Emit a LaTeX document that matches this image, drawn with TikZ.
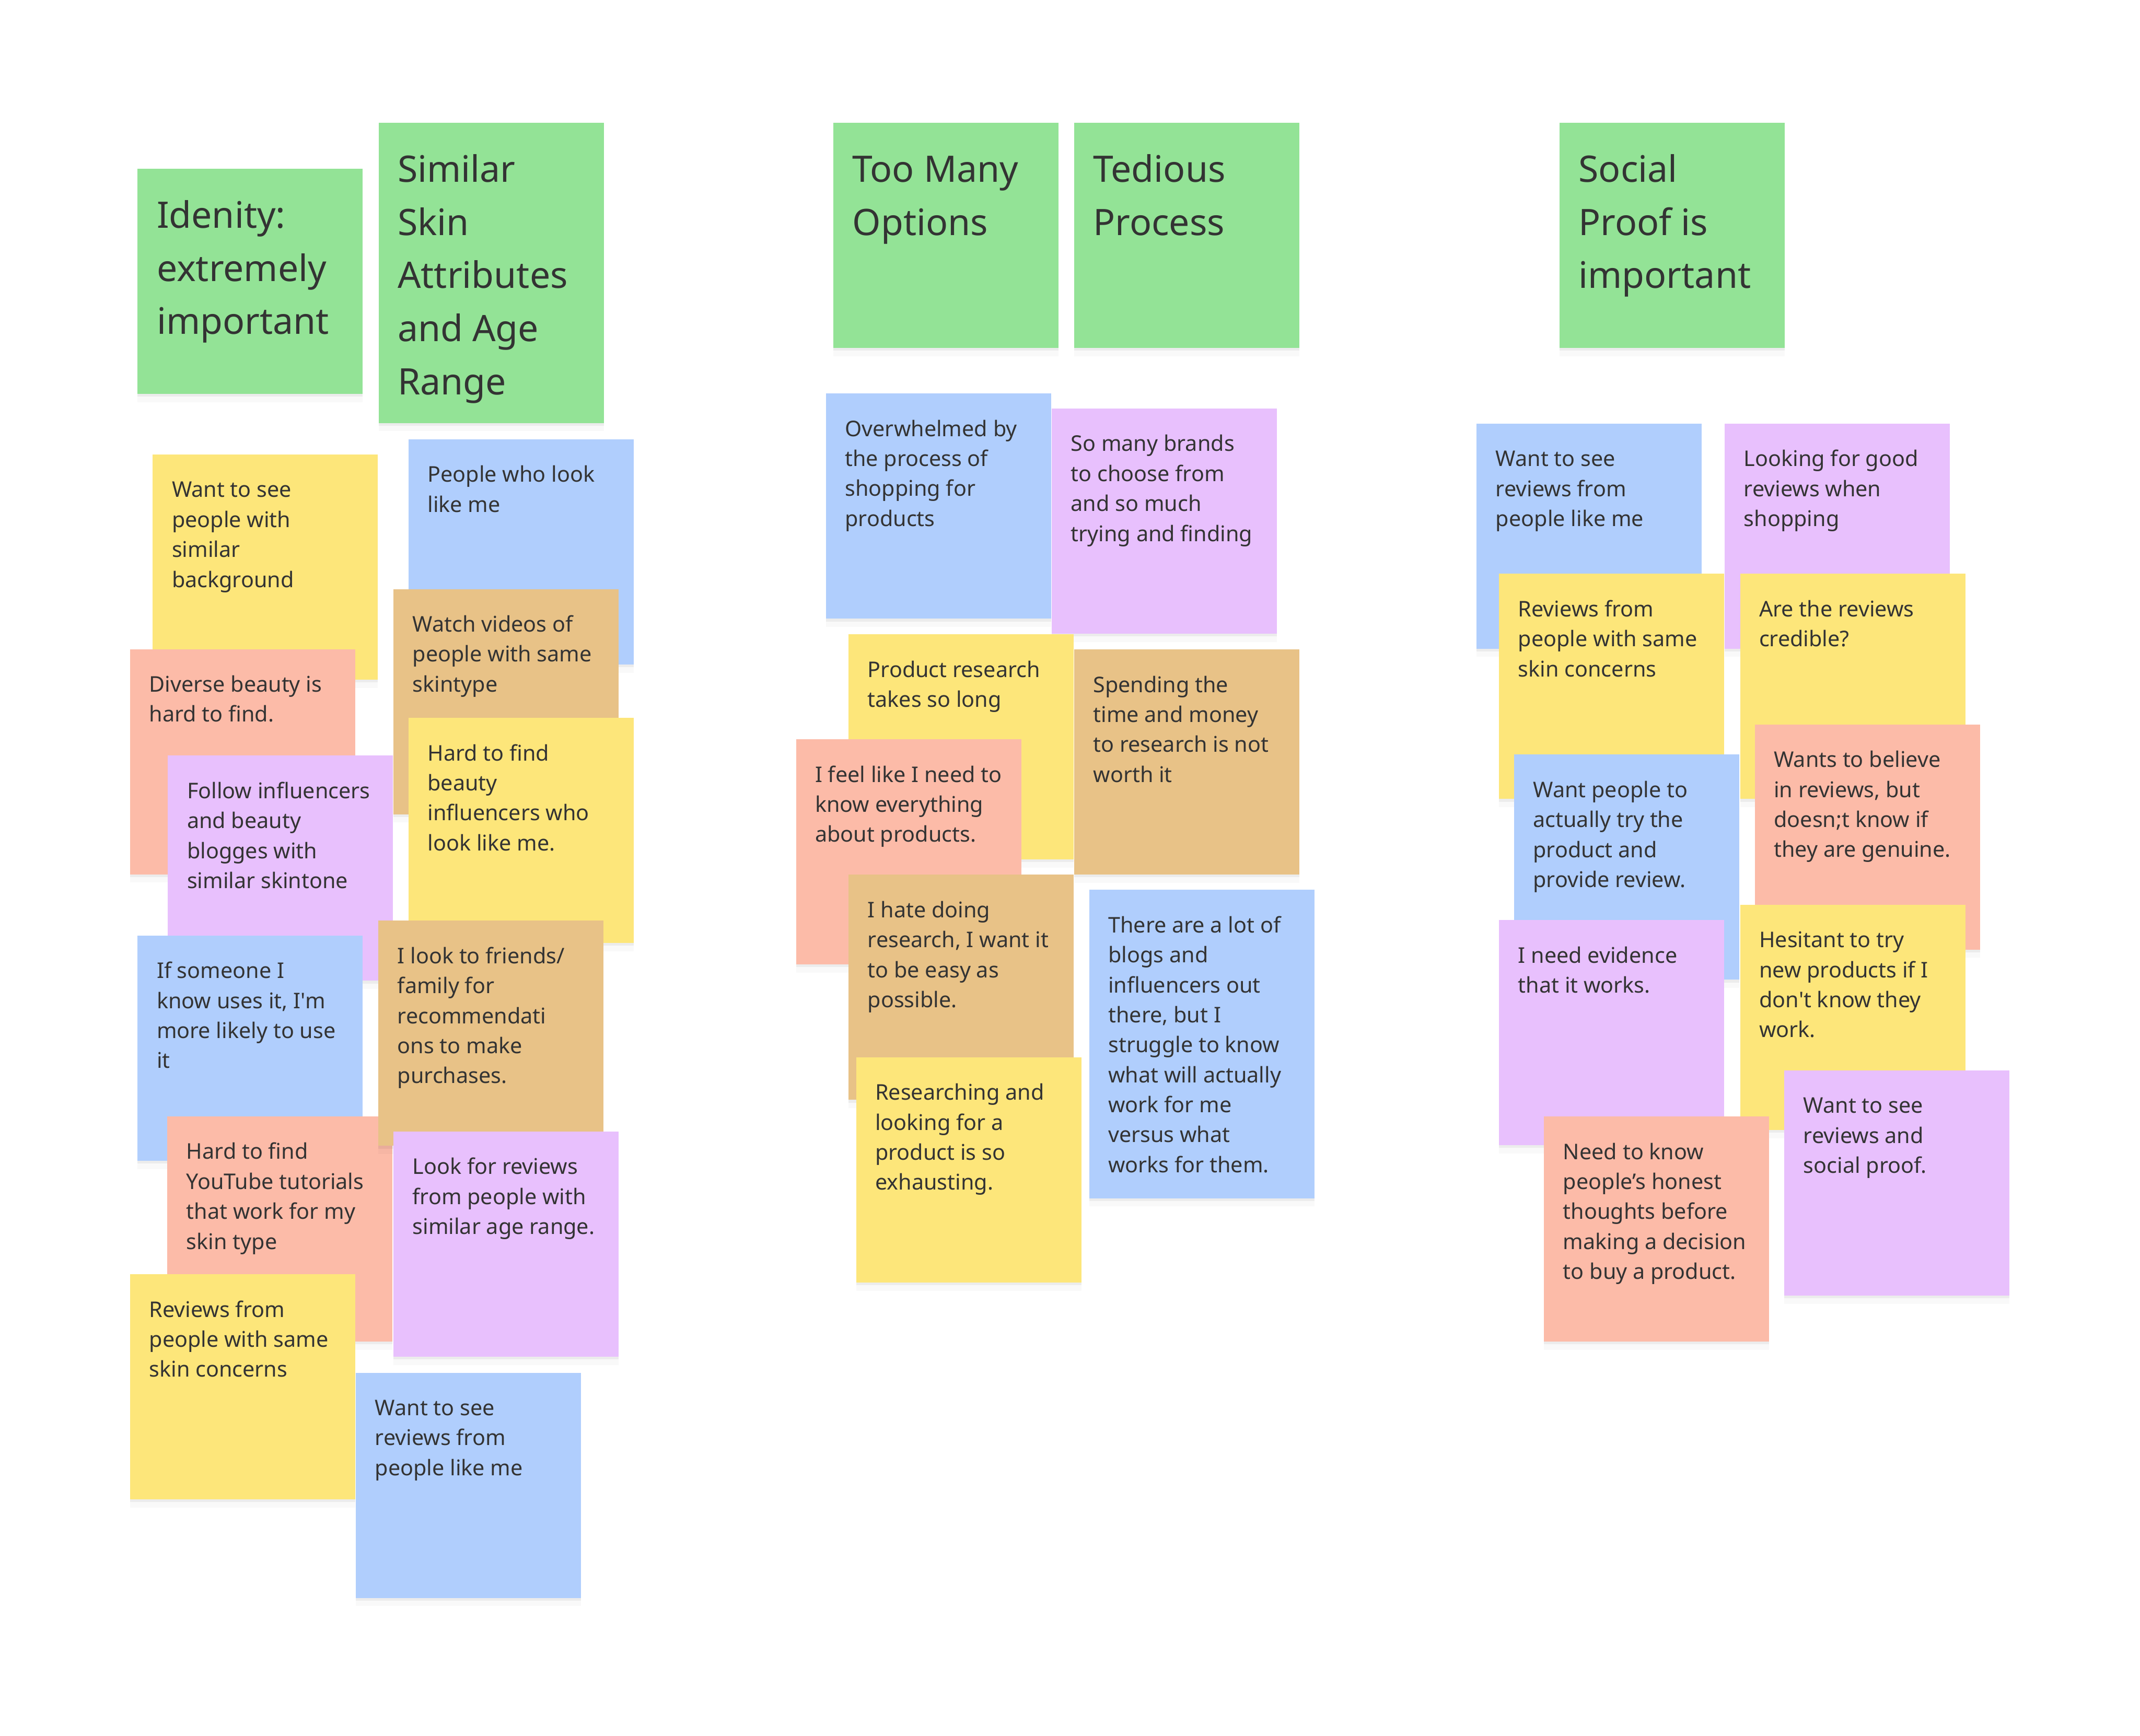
\documentclass[tikz,border=0pt]{standalone}
\usepackage{fontspec}
\setmainfont{Noto Sans}
\usetikzlibrary{shadows}
\definecolor{stgreen}{HTML}{93E396}
\definecolor{styellow}{HTML}{FDE67A}
\definecolor{stblue}{HTML}{B0CEFD}
\definecolor{stpurple}{HTML}{E8C0FD}
\definecolor{stsalmon}{HTML}{FCBBA8}
\definecolor{sttan}{HTML}{E8C287}
\definecolor{ink}{HTML}{333333}
\newcommand{\stick}[2][2.74cm]{\parbox[t][#1][t]{2.74cm}{\vspace*{0.04cm}\begin{tabular}[t]{@{}l@{}}#2\end{tabular}}}

\begin{document}
\begin{tikzpicture}[x=0.2mm,y=-0.2mm,
                    every node/.style={anchor=north west,inner sep=0.28cm,text=ink,
                      drop shadow={shadow xshift=0pt,shadow yshift=-0.04cm,opacity=0.05,fill=black},
                      drop shadow={shadow xshift=0pt,shadow yshift=-0.12cm,opacity=0.025,fill=black}},
                    head/.style={fill=stgreen,font=\fontsize{15.2}{22.2}\selectfont},
                    note/.style={fill=#1,font=\fontsize{9}{12.5}\selectfont}]
                    \useasboundingbox (0,0) rectangle (1568,1272);

                    \node[head] (g1) at (100.5,123.3) {\stick{Idenity:\\extremely\\important}};
                    \node[head] (g2) at (277,89.6) {\stick[3.84cm]{Similar\\Skin\\Attributes\\and Age\\Range}};
                    \node[note=styellow] (y1) at (111.6,332.7) {\stick{Want to see\\people with\\similar\\background}};
                    \node[note=stblue] (b1) at (299,321.6) {\stick{People who look\\like me}};
                    \node[note=sttan] (t1) at (288,431.3) {\stick{Watch videos of\\people with same\\skintype}};
                    \node[note=stsalmon] (s1) at (95,475.3) {\stick{Diverse beauty is\\hard to find.}};
                    \node[note=styellow] (y2) at (299,525.7) {\stick{Hard to find\\beauty\\influencers who\\look like me.}};
                    \node[note=stpurple] (p1) at (122.7,553.3) {\stick{Follow influencers\\and beauty\\blogges with\\similar skintone}};
                    \node[note=stblue] (b2) at (100.5,685.2) {\stick{If someone I\\know uses it, I\textquotesingle m\\more likely to use\\it}};
                    \node[note=stsalmon] (s2) at (122.3,817.7) {\stick{Hard to find\\YouTube tutorials\\that work for my\\skin type}};
                    \node[note=sttan] (t2) at (276.9,674.3) {\stick{I look to friends/\\family for\\recommendati\\ons to make\\purchases.}};
                    \node[note=stpurple] (p2) at (287.9,828.8) {\stick{Look for reviews\\from people with\\similar age range.}};
                    \node[note=styellow] (y3) at (95,933.4) {\stick{Reviews from\\people with same\\skin concerns}};
                    \node[note=stblue] (b3) at (260.4,1005.5) {\stick{Want to see\\reviews from\\people like me}};

                    \node[head] (g3) at (610.3,89.6) {\stick{Too Many\\Options}};
                    \node[head] (g4) at (786.7,89.6) {\stick{Tedious\\Process}};
                    \node[note=stblue] (b4) at (604.8,288) {\stick{Overwhelmed by\\the process of\\shopping for\\products}};
                    \node[note=stpurple] (p3) at (770.3,299) {\stick{So many brands\\to choose from\\and so much\\trying and finding}};
                    \node[note=styellow] (y4) at (621.4,464.4) {\stick{Product research\\takes so long}};
                    \node[note=sttan] (t3) at (786.7,475.5) {\stick{Spending the\\time and money\\to research is not\\worth it}};
                    \node[note=stsalmon] (s3) at (582.9,541.4) {\stick{I feel like I need to\\know everything\\about products.}};
                    \node[note=sttan] (t4) at (621.4,640.6) {\stick{I hate doing\\research, I want it\\to be easy as\\possible.}};
                    \node[note=stblue] (b5) at (797.7,651.7) {\stick[3.96cm]{There are a lot of\\blogs and\\influencers out\\there, but I\\struggle to know\\what will actually\\work for me\\versus what\\works for them.}};
                    \node[note=styellow] (y5) at (626.9,774.4) {\stick{Researching and\\looking for a\\product is so\\exhausting.}};

                    \node[head] (g5) at (1142.3,89.6) {\stick{Social\\Proof is\\important}};
                    \node[note=stblue] (b6) at (1081.6,310) {\stick{Want to see\\reviews from\\people like me}};
                    \node[note=stpurple] (p4) at (1263.4,310) {\stick{Looking for good\\reviews when\\shopping}};
                    \node[note=styellow] (y6) at (1098,420.1) {\stick{Reviews from\\people with same\\skin concerns}};
                    \node[note=styellow] (y7) at (1274.6,420.1) {\stick{Are the reviews\\credible?}};
                    \node[note=stblue] (b7) at (1109,552.6) {\stick{Want people to\\actually try the\\product and\\provide review.}};
                    \node[note=stsalmon] (s4) at (1285.4,530.5) {\stick{Wants to believe\\in reviews, but\\doesn;t know if\\they are genuine.}};
                    \node[note=stpurple] (p5) at (1098,673.8) {\stick{I need evidence\\that it works.}};
                    \node[note=styellow] (y8) at (1274.6,662.6) {\stick{Hesitant to try\\new products if I\\don\textquotesingle t know they\\work.}};
                    \node[note=stsalmon] (s5) at (1131,817.8) {\stick{Need to know\\people’s honest\\thoughts before\\making a decision\\to buy a product.}};
                    \node[note=stpurple] (p6) at (1307,784) {\stick{Want to see\\reviews and\\social proof.}};
                \end{tikzpicture}
\end{document}
